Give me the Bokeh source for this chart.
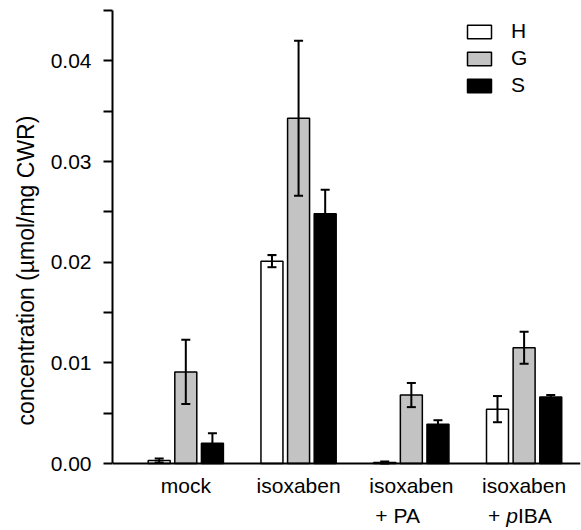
from bokeh.plotting import figure
from bokeh.models import ColumnDataSource, Whisker, FixedTicker, Label, Legend, LegendItem, TeeHead
from bokeh.embed import file_html
from bokeh.resources import INLINE

# ---- data ----
groups = ["mock", "isoxaben", "isoxaben", "isoxaben"]
# second line of the category labels: (text, font style) pieces
group_line2 = [[], [], [("+", "normal"), ("PA", "normal")],
               [("+", "normal"), ("p", "italic"), ("IBA", "normal")]]
series = ["H", "G", "S"]
H_mean = [0.0003, 0.0201, 0.0001, 0.0054]
H_err = [0.0002, 0.0006, 0.0001, 0.0013]
G_mean = [0.0091, 0.0343, 0.0068, 0.0115]
G_err = [0.0032, 0.0077, 0.0012, 0.0016]
S_mean = [0.0020, 0.0248, 0.0039, 0.0066]
S_err = [0.0010, 0.0024, 0.0004, 0.0002]
y_ticks = [0.0, 0.01, 0.02, 0.03, 0.04]
y_minor_ticks = [0.005, 0.015, 0.025, 0.035, 0.045]
y_tick_labels = ["0.00", "0.01", "0.02", "0.03", "0.04"]
y_max = 0.045

FONT = "Liberation Sans"
fills = {"H": "white", "G": "#c3c3c3", "S": "black"}
offsets = {"H": -0.236, "G": 0.0, "S": 0.236}
means = {"H": H_mean, "G": G_mean, "S": S_mean}
errs = {"H": H_err, "G": G_err, "S": S_err}

idx = list(range(len(groups)))
data = {"x": idx}
for s in series:
    data["x_" + s] = [i + offsets[s] for i in idx]
    data[s] = means[s]
    data[s + "_up"] = [m + e for m, e in zip(means[s], errs[s])]
    data[s + "_lo"] = [m - e for m, e in zip(means[s], errs[s])]
src = ColumnDataSource(data)

# frame spans the full height below the top border so the two-line
# category labels fit inside it; 0 sits 67 px above the bottom edge
H_FRAME = 520
PX_ZERO_TO_TOP = 453
y_min = -y_max * (H_FRAME - PX_ZERO_TO_TOP) / PX_ZERO_TO_TOP

p = figure(width=581, height=530, x_range=(-0.65, 3.5), y_range=(y_min, y_max),
           min_border_left=112, min_border_right=1, min_border_top=10, min_border_bottom=0,
           output_backend="svg", toolbar_location=None)
p.outline_line_color = None
p.xgrid.grid_line_color = None
p.ygrid.grid_line_color = None
p.background_fill_color = "white"

items = []
for s in series:
    r = p.vbar(x="x_" + s, top=s, width=0.195, bottom=0, source=src,
               fill_color=fills[s], line_color="black", line_width=1.5)
    items.append(LegendItem(label=s, renderers=[r]))
    w = Whisker(source=src, base="x_" + s, upper=s + "_up", lower=s + "_lo",
                line_color="black", line_width=2, level="annotation",
                upper_head=TeeHead(size=9, line_width=2, line_color="black"),
                lower_head=TeeHead(size=9, line_width=2, line_color="black"))
    p.add_layout(w)

# axes
xa = p.xaxis[0]
xa.fixed_location = 0
xa.ticker = FixedTicker(ticks=idx)
xa.major_label_overrides = {i: g for i, g in zip(idx, groups)}
xa.major_tick_line_color = None
xa.minor_tick_line_color = None
xa.axis_line_width = 2
xa.axis_line_color = "black"
xa.major_label_text_font = FONT
xa.major_label_text_font_size = "21px"
xa.major_label_text_color = "black"
xa.major_label_standoff = 4

ya = p.yaxis[0]
ya.bounds = (0, y_max)
ya.ticker = FixedTicker(ticks=y_ticks, minor_ticks=y_minor_ticks)
ya.major_label_overrides = {t: l for t, l in zip(y_ticks, y_tick_labels)}
ya.axis_line_width = 2
ya.axis_line_color = "black"
ya.major_tick_line_width = 2
ya.minor_tick_line_width = 2
ya.major_tick_line_color = "black"
ya.minor_tick_line_color = "black"
ya.major_tick_out = 9
ya.major_tick_in = 0
ya.minor_tick_out = 9
ya.minor_tick_in = 0
ya.major_label_text_font = FONT
ya.major_label_text_font_size = "21px"
ya.major_label_text_color = "black"
ya.major_label_standoff = 12
ya.axis_label = "concentration (µmol/mg CWR)"
ya.axis_label_text_font = FONT
ya.axis_label_text_font_size = "23px"
ya.axis_label_text_font_style = "normal"
ya.axis_label_text_color = "black"
ya.axis_label_standoff = 9

# second line of category labels
adv = {"+": 0.584, " ": 0.278, "p": 0.556, "P": 0.667, "A": 0.667, "I": 0.278, "B": 0.667}
fs = 21
for i, parts in zip(idx, group_line2):
    off = -36.0
    for k, (txt, style) in enumerate(parts):
        p.add_layout(Label(x=i, y=0, x_offset=off, y_offset=-52, text=txt,
                           text_font=FONT, text_font_size=f"{fs}px", text_font_style=style,
                           text_color="black", text_align="left", text_baseline="alphabetic"))
        off += sum(adv.get(c, 0.556) for c in txt) * fs
        if txt == "+":
            off += adv[" "] * fs

legend = Legend(items=items, location=(352, 433), orientation="vertical",
                glyph_width=30, glyph_height=17, label_standoff=17, spacing=3,
                padding=0, margin=0, border_line_color=None, background_fill_alpha=0,
                label_text_font=FONT, label_text_font_size="21px", label_text_color="black")
p.add_layout(legend)

open("out.html", "w").write(file_html(p, INLINE))
